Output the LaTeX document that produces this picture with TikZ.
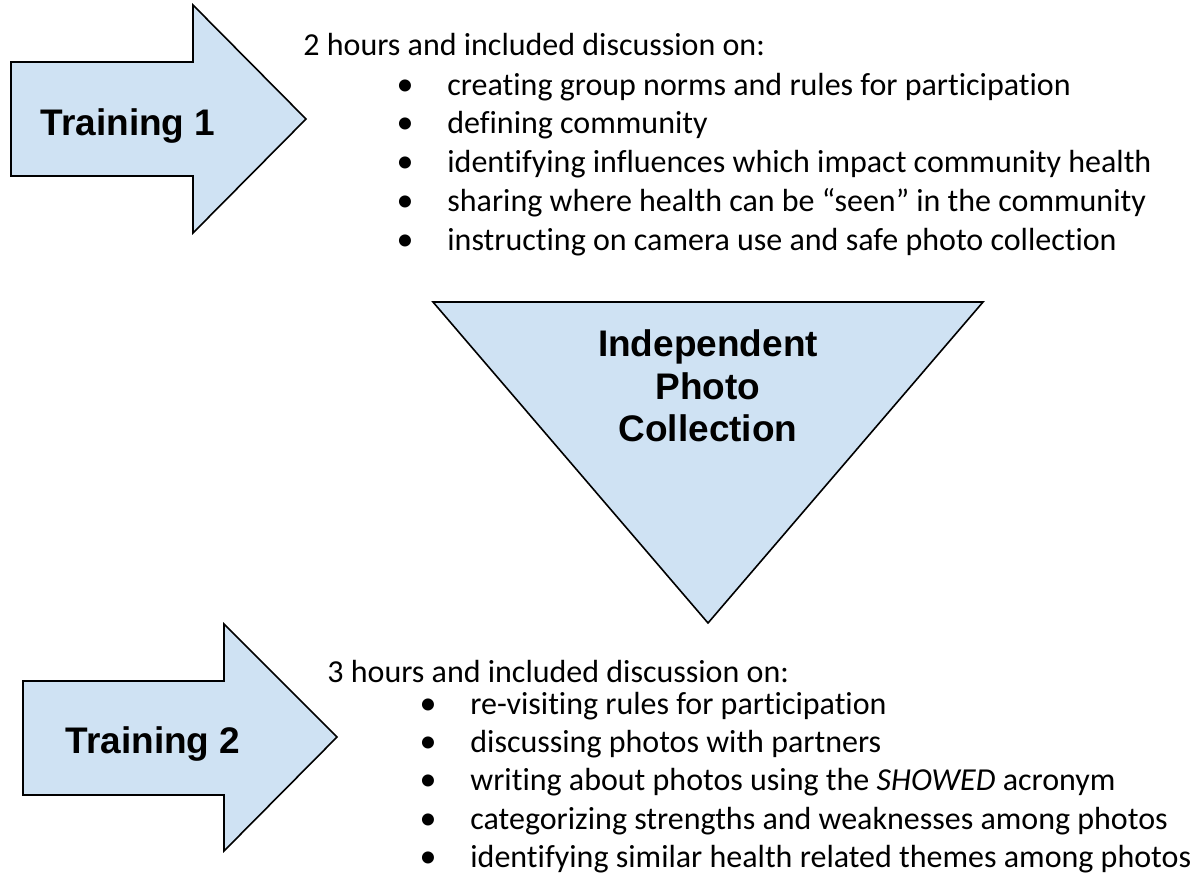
\documentclass[tikz,border=0pt]{standalone}
\usepackage{fontspec}
\usepackage{tikz}
\usetikzlibrary{positioning}

\newfontfamily\bodyfont[Ligatures=NoCommon]{Carlito}
\newfontfamily\headfont{Liberation Sans}
\definecolor{paleblue}{RGB}{207,226,243}

\tikzset{
	every node/.style={
		inner sep=0pt
	},
	stage/.style={
		draw=black,
		fill=paleblue,
		line width=0.8pt,
		line join=miter
	},
	heading/.style={
		font=\headfont\bfseries\fontsize{18.5}{21.25}\selectfont,
		align=center
	},
	topic/.style={
		anchor=base west,
		font=\bodyfont\fontsize{16}{19}\selectfont
	},
	bulletmark/.style={
		anchor=base,
		font=\bodyfont\fontsize{17}{19}\selectfont
	}
}

\begin{document}
\begin{tikzpicture}[x=0.5pt,y=-0.5pt]
  \useasboundingbox (0,0) rectangle (1199,875);

  % first session
  \draw[stage] (11,62) -- (193,62) -- (193,5) -- (306,119) -- (193,233) -- (193,176) -- (11,176) -- cycle;
  \node[heading, anchor=base] (train1) at (128,135) {Training 1};

  \node[topic] (hours1) at (303,55) {2 hours and included discussion on:};
  \foreach \topictext [count=\i] in {
      creating group norms and rules for participation,
      defining community,
      identifying influences which impact community health,
      sharing where health can be “seen” in the community,
      instructing on camera use and safe photo collection} {
    \node[bulletmark] (dotA\i) at (405,{95+38.8*(\i-1)}) {•};
    \node[topic] (topicA\i) at (447,{95+38.8*(\i-1)}) {\topictext};
  }

  % photo taking between the sessions
  \draw[stage] (433,302) -- (983,302) -- (708,623) -- cycle;
  \node[heading] (photos) at (708,386) {Independent\\Photo\\Collection};

  % second session
  \draw[stage] (23,681) -- (224,681) -- (224,624) -- (337,737) -- (224,851) -- (224,795) -- (23,795) -- cycle;
  \node[heading, anchor=base] (train2) at (153,753) {Training 2};

  \node[topic] (hours2) at (327,682) {3 hours and included discussion on:};
  \foreach \topictext [count=\i] in {
      re-visiting rules for participation,
      discussing photos with partners,
      writing about photos using the \textit{SHOWED} acronym,
      categorizing strengths and weaknesses among photos,
      identifying similar health related themes among photos} {
    \node[bulletmark] (dotB\i) at (428,{714+38.4*(\i-1)}) {•};
    \node[topic] (topicB\i) at (470,{714+38.4*(\i-1)}) {\topictext};
  }
\end{tikzpicture}
\end{document}
